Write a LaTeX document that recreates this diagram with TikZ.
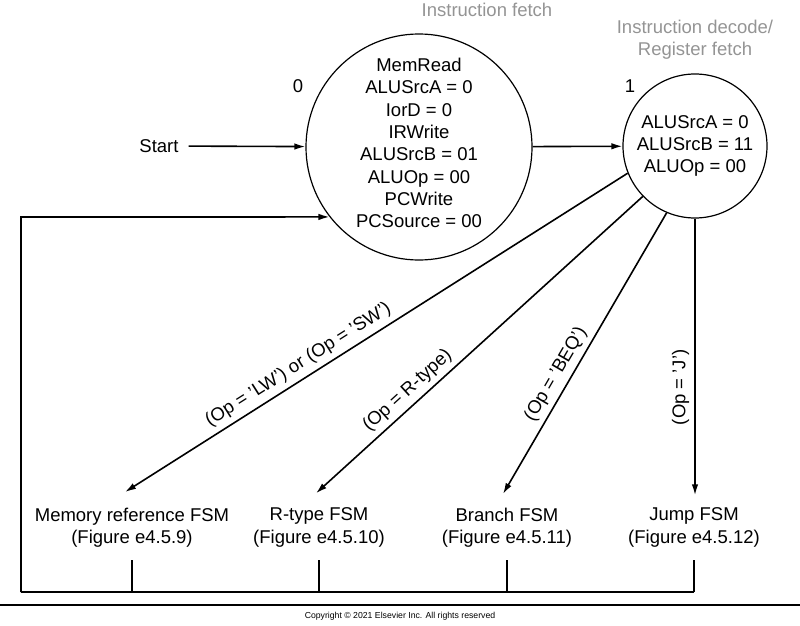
\documentclass[tikz,border=0pt]{standalone}
\usepackage{fontspec}
\setmainfont{Liberation Sans}
\usepackage{tikz}
\usetikzlibrary{positioning,arrows.meta,calc}
\newcommand{\fsmfont}{\fontsize{18.5}{22.3}\selectfont}

\begin{document}
\begin{tikzpicture}[x=1pt, y=-1pt,
    state/.style={circle, draw=black, line width=1.2pt, inner sep=0pt,
                  align=center, font=\fsmfont},
    plain/.style={align=center, font=\fsmfont, inner sep=3pt},
    phase/.style={plain, text=black!42},
    cond/.style={font=\fsmfont, sloped, above, inner sep=5pt},
    arrow/.style={-{Latex[length=11pt, width=6.5pt]}, line width=1.6pt},
    wire/.style={line width=1.6pt}
]
    \useasboundingbox (0,0) rectangle (800,626);

    \node[state, minimum size=226pt] (s0) at (419,147) {};
    \node[plain, inner sep=0pt] (s0text) at (419,143) {MemRead\\ALUSrcA = 0\\IorD = 0\\IRWrite\\
        ALUSrcB = 01\\ALUOp = 00\\PCWrite\\PCSource = 00};
    \node[state, minimum size=144pt] (s1) at (695,146) {ALUSrcA = 0\\ALUSrcB = 11\\ALUOp = 00};
    \node[plain] (n0) at (298,86) {0};
    \node[plain] (n1) at (630,86) {1};
    \node[phase] (fetch) at (487,10) {Instruction fetch};
    \node[phase] (decode) at (695,40) {Instruction decode/\\Register fetch};
    \node[plain, inner sep=10pt] (start) at (159,146) {Start};

    \node[plain] (mem) at (132,527.5) {Memory reference FSM\\(Figure e4.5.9)};
    \node[plain] (rtype) at (319,527.5) {R-type FSM\\(Figure e4.5.10)};
    \node[plain] (branch) at (507,527.5) {Branch FSM\\(Figure e4.5.11)};
    \node[plain] (jump) at (694,527.5) {Jump FSM\\(Figure e4.5.12)};

    \draw[arrow] (start) -- (s0);
    \draw[arrow] (s0) -- (s1);
    \draw[arrow] (s1.202.7) -- node[cond, pos=0.64] {(Op = 'LW') or (Op = 'SW')} ([shift={(-7,-12.5)}]mem.north);
    \draw[arrow] (s1.224.4) -- node[cond, pos=0.69] {(Op = R-type)} ([shift={(-3,-11.5)}]rtype.north);
    \draw[arrow] (s1.247.3) -- node[cond, pos=0.6] {(Op = 'BEQ')} ([shift={(-4,-10.5)}]branch.north);
    \draw[arrow] (s1.south) -- node[pos=0.61, rotate=90, anchor=south, font=\fsmfont, inner sep=5pt] {(Op = 'J')}
        ([shift={(0,-9.5)}]s1.south |- jump.north);

    \coordinate (corner) at (21,592);
    \coordinate (back) at (21,217);
    \foreach \n in {mem, rtype, branch, jump}
        \draw[wire] ([yshift=-10pt]\n.south) -- (\n.south |- corner);
    \draw[wire] (jump.south |- corner) -- (corner);
    \draw[arrow] (corner) -- (back) -- (s0.218.5);

    \draw[line width=2.5pt] (0,605) -- (800,605);
    \node[font=\fontsize{8.7}{10}\selectfont] (copy) at (400,616) {Copyright © 2021 Elsevier Inc. All rights reserved};
\end{tikzpicture}
\end{document}
